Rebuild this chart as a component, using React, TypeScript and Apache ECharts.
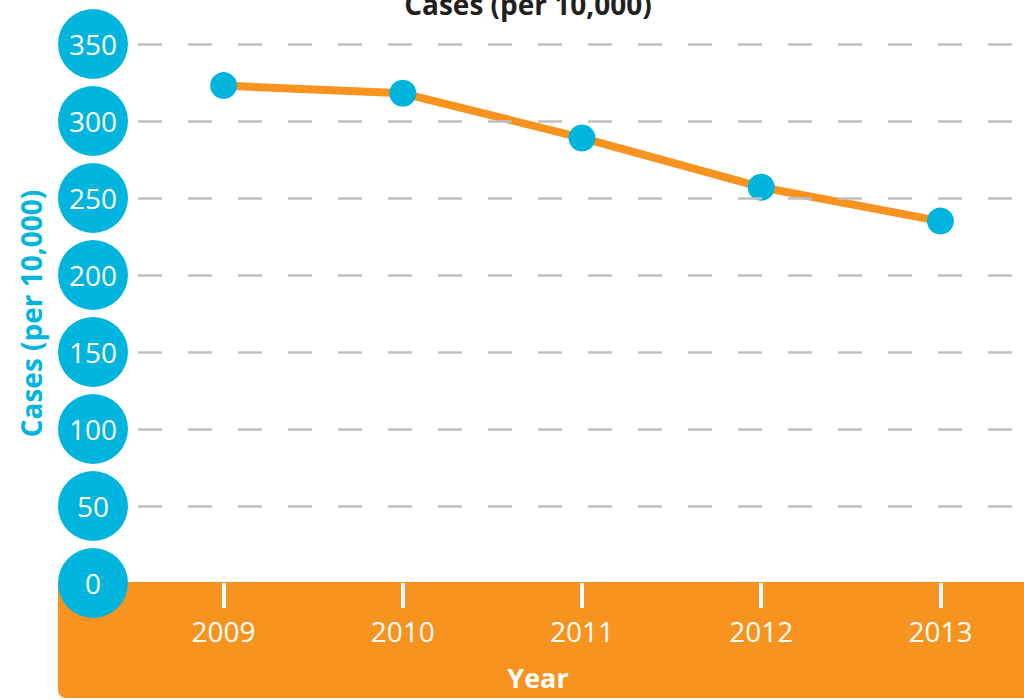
import React, { useEffect, useRef } from "react";
import * as echarts from "echarts";

const years = ["2009", "2010", "2011", "2012", "2013"];
const cases = [323, 318, 289, 257, 235];
const titleText = "Cases (per 10,000)";
const yAxisName = "Cases (per 10,000)";
const xAxisName = "Year";

const BLUE = "#00b5dd";
const ORANGE = "#f7931e";
const FONT = "Open Sans";

export default function App() {
  const ref = useRef<HTMLDivElement>(null);
  useEffect(() => {
    if (!ref.current) return;
    const chart = echarts.init(ref.current, undefined, { renderer: "svg" });
    chart.setOption({
      animation: false,
      backgroundColor: "#ffffff",
      title: {
        text: titleText,
        left: 523,
        top: -15,
        textAlign: "center",
        textStyle: { fontFamily: FONT, fontWeight: "bold", fontSize: 28, color: "#231f20" },
      },
      grid: { left: 134, right: 0, top: 44, bottom: 117 },
      graphic: [
        {
          type: "rect",
          z: 1,
          shape: { x: 58, y: 582, width: 1000, height: 116, r: [0, 0, 0, 8] },
          style: { fill: ORANGE },
        },
        {
          type: "text",
          z: 10,
          x: 538,
          y: 677,
          style: {
            text: xAxisName,
            fill: "#ffffff",
            fontFamily: FONT,
            fontWeight: "bold",
            fontSize: 27,
            textAlign: "center",
            textVerticalAlign: "middle",
          },
        },
      ],
      xAxis: {
        type: "category",
        data: years,
        boundaryGap: true,
        z: 10,
        axisLine: { show: false },
        axisTick: {
          show: true,
          alignWithLabel: true,
          length: 25,
          inside: false,
          lineStyle: { color: "#ffffff", width: 4 },
        },
        axisLabel: {
          color: "#ffffff",
          fontFamily: FONT,
          fontSize: 28,
          margin: 34,
        },
        splitLine: { show: false },
      },
      yAxis: {
        type: "value",
        min: 0,
        max: 350,
        interval: 50,
        z: 10,
        name: yAxisName,
        nameLocation: "middle",
        nameGap: 89,
        nameTextStyle: { color: BLUE, fontFamily: FONT, fontWeight: "bold", fontSize: 28 },
        axisLine: { show: false },
        axisTick: { show: false },
        axisLabel: {
          margin: 6,
          formatter: (v: number) => `{c|${v}}`,
          rich: {
            c: {
              backgroundColor: BLUE,
              color: "#ffffff",
              width: 70,
              height: 70,
              lineHeight: 70,
              borderRadius: 35,
              align: "center",
              fontFamily: FONT,
              fontSize: 28,
            },
          },
        },
        splitLine: {
          show: true,
          showMinLine: false,
          lineStyle: { color: "#c0c0c0", width: 2.5, type: [24, 26], dashOffset: -4 },
        },
      },
      series: [
        {
          type: "line",
          data: cases,
          z: 5,
          lineStyle: { color: ORANGE, width: 8 },
          symbol: "circle",
          symbolSize: 27,
          itemStyle: { color: BLUE },
          showSymbol: true,
        },
      ],
    });
    return () => chart.dispose();
  }, []);
  return (
    <div
      ref={ref}
      style={{ position: "fixed", left: 0, top: 0, width: 1030, height: 700 }}
    />
  );
}
